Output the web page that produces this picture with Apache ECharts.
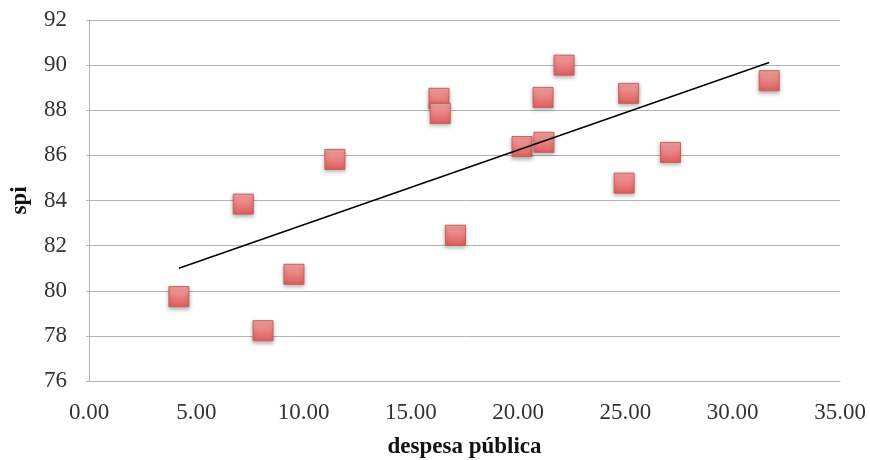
<!DOCTYPE html>
<html>
<head>
<meta charset="utf-8">
<script src="https://cdn.jsdelivr.net/npm/echarts@6/dist/echarts.min.js"></script>
<style>
  html, body { margin: 0; padding: 0; background: #fff; }
  #main { width: 870px; height: 460px; }
</style>
</head>
<body>
<div id="main"></div>
<script>
// despesa pública (x) vs spi (y)
var despesa = [4.19, 7.19, 8.11, 9.55, 11.46, 16.31, 16.37, 17.08, 20.18, 21.2, 21.16, 22.14, 25.15, 24.94, 27.1, 31.7];
var spi = [79.74, 83.84, 78.23, 80.73, 85.82, 88.53, 87.86, 82.46, 86.39, 86.58, 88.57, 90.0, 88.75, 84.77, 86.13, 89.31];
// end points of the trend line
var trendX = [4.19, 31.7];
var trendY = [81.0, 90.12];

var pontos = despesa.map(function (d, i) { return [d, spi[i]]; });
var tendencia = trendX.map(function (d, i) { return [d, trendY[i]]; });

var fonte = '"Liberation Serif", "DejaVu Serif", serif';
var myChart = echarts.init(document.getElementById('main'));

var option = {
    backgroundColor: '#fff',
    animation: false,
    grid: { left: 89, right: 30, top: 20, bottom: 79, containLabel: false, outerBoundsMode: 'none' },
    xAxis: {
        type: 'value',
        min: 0, max: 35, interval: 5,
        name: 'despesa pública',
        nameLocation: 'middle',
        nameGap: 55,
        nameTextStyle: { fontFamily: fonte, fontSize: 23, fontWeight: 'bold', color: '#111' },
        axisLine: { show: true, lineStyle: { color: '#b3b3b3', width: 1 } },
        axisTick: { show: false },
        splitLine: { show: false },
        axisLabel: {
            fontFamily: fonte, fontSize: 23, color: '#333', margin: 20,
            formatter: function (v) { return v.toFixed(2); }
        }
    },
    yAxis: {
        type: 'value',
        min: 76, max: 92, interval: 2,
        name: 'spi',
        nameLocation: 'middle',
        nameGap: 57,
        nameRotate: 90,
        nameTextStyle: { fontFamily: fonte, fontSize: 23, fontWeight: 'bold', color: '#111' },
        axisLine: { show: true, lineStyle: { color: '#b3b3b3', width: 1 } },
        axisTick: { show: true, length: 3, lineStyle: { color: '#b3b3b3' } },
        splitLine: { show: true, lineStyle: { color: '#b3b3b3', width: 1 } },
        axisLabel: { fontFamily: fonte, fontSize: 23, color: '#333', margin: 22 }
    },
    series: [
        {
            name: 'spi',
            type: 'scatter',
            symbol: 'rect',
            symbolSize: 20,
            data: pontos,
            z: 3,
            itemStyle: {
                opacity: 1,
                color: new echarts.graphic.LinearGradient(0, 0, 0, 1, [
                    { offset: 0, color: '#f4a4a2' },
                    { offset: 1, color: '#de5e5c' }
                ]),
                borderColor: '#c8605e',
                borderWidth: 1,
                shadowColor: 'rgba(0,0,0,0.3)',
                shadowBlur: 4,
                shadowOffsetY: 2
            }
        },
        {
            name: 'tendência',
            type: 'line',
            data: tendencia,
            showSymbol: false,
            symbol: 'none',
            z: 4,
            lineStyle: { color: '#000', width: 1.5 }
        }
    ]
};

if (option && typeof option === "object") {
    myChart.setOption(option, true);
}
</script>
</body>
</html>
